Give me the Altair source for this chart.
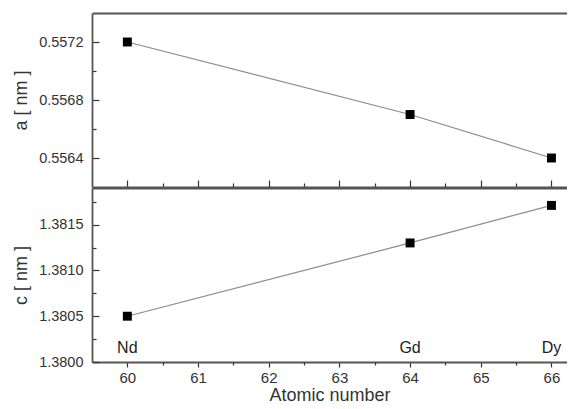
import altair as alt
import pandas as pd

# ---- data ----
atomic_number = [60, 64, 66]
element = ["Nd", "Gd", "Dy"]
a_nm = [0.5572, 0.55670, 0.5564]
c_nm = [1.3805, 1.3813, 1.38171]
element_label_level = 1.38015

x_major = [60, 61, 62, 63, 64, 65, 66]
x_minor = [60.5, 61.5, 62.5, 63.5, 64.5, 65.5]
a_major = [0.5564, 0.5568, 0.5572]
a_minor = [0.5566, 0.5570]
c_major = [1.3800, 1.3805, 1.3810, 1.3815]
c_minor = [1.38025, 1.38075, 1.38125, 1.38175]

df = pd.DataFrame({"z": atomic_number, "el": element, "a": a_nm, "c": c_nm})

FONT = "Liberation Sans"
INK = "#333333"
FRAME = "#555555"
LINE = "#8c8c8c"
W, H = 475, 174

xscale = alt.Scale(domain=[59.5, 66.22], nice=False, zero=False)
ascale = alt.Scale(domain=[0.5562, 0.5574], nice=False, zero=False)
cscale = alt.Scale(domain=[1.3800, 1.3819], nice=False, zero=False)


def axis(**kw):
    base = dict(grid=False, domain=False, labels=False, ticks=False, title=None,
                tickColor=INK, domainColor=FRAME, domainWidth=1.8, tickWidth=1.2,
                labelColor=INK, titleColor=INK, labelFont=FONT, titleFont=FONT,
                labelFontSize=14.5, titleFontSize=18, titleFontWeight="normal")
    base.update(kw)
    return alt.Axis(**base)


def panel(field, scale, major, minor, title, bottom):
    base = alt.Chart(df)
    if bottom:
        x_main = axis(orient="bottom", values=x_major, ticks=True, tickSize=5,
                      labels=True, labelPadding=3, domain=True, labelFontSize=15,
                      title="Atomic number", titlePadding=1)
        x_min = axis(orient="bottom", values=x_minor, ticks=True, tickSize=3)
    else:
        x_main = axis(orient="bottom", values=x_major, ticks=True, tickSize=7,
                      offset=-7)
        x_min = axis(orient="bottom", values=x_minor, ticks=True, tickSize=4,
                     offset=-4)
    y_main = axis(orient="left", values=major, ticks=True, tickSize=7, offset=-7,
                  labels=True, labelPadding=9, format=".4f", title=title,
                  titlePadding=8)
    y_min = axis(orient="left", values=minor, ticks=True, tickSize=4, offset=-4)

    line = base.mark_line(color=LINE, strokeWidth=1.2).encode(
        x=alt.X("z:Q", scale=xscale, axis=x_main),
        y=alt.Y(f"{field}:Q", scale=scale, axis=y_main),
    )
    pts = base.mark_point(shape="square", filled=True, color="black",
                          size=80, opacity=1).encode(
        x=alt.X("z:Q", scale=xscale, axis=x_min),
        y=alt.Y(f"{field}:Q", scale=scale, axis=y_min),
    )
    frame1 = base.mark_point(opacity=0).encode(
        x=alt.X("z:Q", scale=xscale, axis=axis(orient="top", domain=True)),
        y=alt.Y(f"{field}:Q", scale=scale, axis=axis(orient="left", domain=True)),
    )
    layers = [line, pts, frame1]
    if not bottom:
        frame2 = base.mark_point(opacity=0).encode(
            x=alt.X("z:Q", scale=xscale, axis=axis(orient="bottom", domain=True)),
            y=alt.Y(f"{field}:Q", scale=scale, axis=None),
        )
        layers.append(frame2)
    else:
        txt = base.mark_text(font=FONT, fontSize=16, fontWeight="normal",
                             color="#222222", baseline="middle").encode(
            x=alt.X("z:Q", scale=xscale, axis=None),
            y=alt.YDatum(element_label_level, type="quantitative", scale=scale,
                         axis=None),
            text="el:N",
        )
        layers.append(txt)
    return alt.layer(*layers).resolve_axis(x="independent", y="independent") \
        .properties(width=W, height=H)


top = panel("a", ascale, a_major, a_minor, "a [ nm ]", False)
bot = panel("c", cscale, c_major, c_minor, "c [ nm ]", True)

chart = alt.vconcat(top, bot, spacing=0).configure_view(stroke=None) \
    .properties(padding={"left": 4, "top": 5, "right": 0, "bottom": 0})

chart.save("out.html", embed_options={"renderer": "svg", "actions": False})
